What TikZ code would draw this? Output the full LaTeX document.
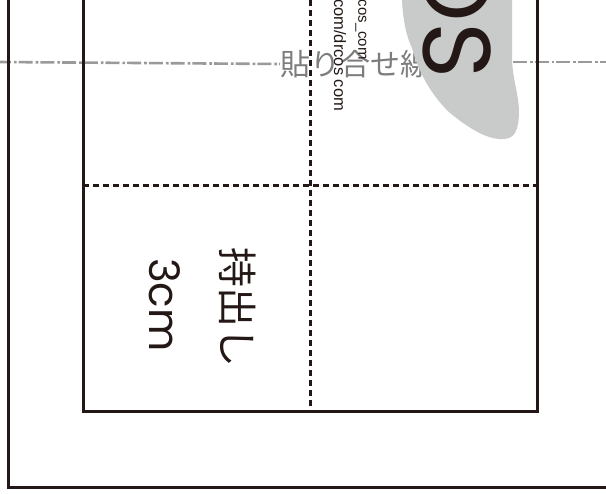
\documentclass[tikz,border=0pt]{standalone}
\usepackage{fontspec}
\setmainfont{Liberation Sans}
\newfontfamily\cjk{Noto Sans CJK JP}
\newfontfamily\logofont{Poppins}
\usetikzlibrary{positioning}
\definecolor{ink}{HTML}{231815}
\definecolor{blobgray}{HTML}{C9CACA}
\definecolor{linegray}{HTML}{9A9A9A}
\definecolor{textgray}{HTML}{7D7D7D}

\begin{document}
\begin{tikzpicture}[x=1pt,y=1pt,
	frame/.style={draw=ink,line width=3pt},
	fold/.style={draw=ink,line width=3pt,dash pattern=on 6pt off 4pt},
	paste/.style={draw=linegray,line width=2.6pt,dash pattern=on 14pt off 3pt on 2.7pt off 2pt},
	turned/.style={rotate=-90,inner sep=0pt,text=ink},
	pastelabel/.style={inner sep=0pt,text=textgray,font=\cjk\fontsize{30}{30}\selectfont}]
	\useasboundingbox (0,0) rectangle (606,-494);

	\coordinate					(o1)	at (8,0);
	\coordinate					(o2)	at (8,-488);
	\coordinate					(o3)	at (606,-488);
	\coordinate					(i1)	at (83,0);
	\coordinate					(i2)	at (83,-412);
	\coordinate					(i3)	at (537,-412);
	\coordinate					(i4)	at (537,0);
	\coordinate					(f1)	at (310,0);
	\coordinate					(f2)	at (310,-412);
	\coordinate					(f3)	at (83,-186);
	\coordinate					(f4)	at (537,-186);
	\coordinate					(p1)	at (-3,-62);
	\coordinate					(p2)	at (513,-62);
	\coordinate					(p3)	at (606,-62);

	\draw[fold] (f1) -- (f2);
	\draw[fold] (f3) -- (f4);

	\node[pastelabel,anchor=west]	(paste)		at (280,-64)	{貼り合せ線};
	\draw[paste] (p1) -- (paste.west);
	\draw[paste] (p2) -- (p3);

	\node[turned,anchor=west,font=\fontsize{16.5}{16.5}\selectfont]	(url1)	at (340,1)		{com/drcos com};
	\node[turned,anchor=east,font=\fontsize{15}{15}\selectfont]		(url2)	at (361,-60)	{cos\_com};

	\fill[blobgray] (402,0) .. controls (403,-22) and (407,-38) .. (412,-48)
		.. controls (420,-78) and (436,-100) .. (450,-113)
		.. controls (466,-126) and (486,-140) .. (503,-139)
		.. controls (515,-139) and (519,-130) .. (519,-110)
		.. controls (518,-92) and (513,-80) .. (512,-60) -- (512,0) -- cycle;

	\node[turned,font=\logofont\fontsize{96}{96}\selectfont,anchor=base east]	(logo)	at (423,-79)	{OS};

	\draw[frame] (o1) -- (o2) -- (o3);
	\draw[frame] (i4) -- (i3) -- (i2) -- (i1);

	\node[turned,font=\cjk\fontsize{40}{40}\selectfont]		(tab)	at (238,-308)	{持出し};
	\node[turned,font=\logofont\fontsize{42}{42}\selectfont]	(size)	at (165,-305)	{3cm};
\end{tikzpicture}
\end{document}
